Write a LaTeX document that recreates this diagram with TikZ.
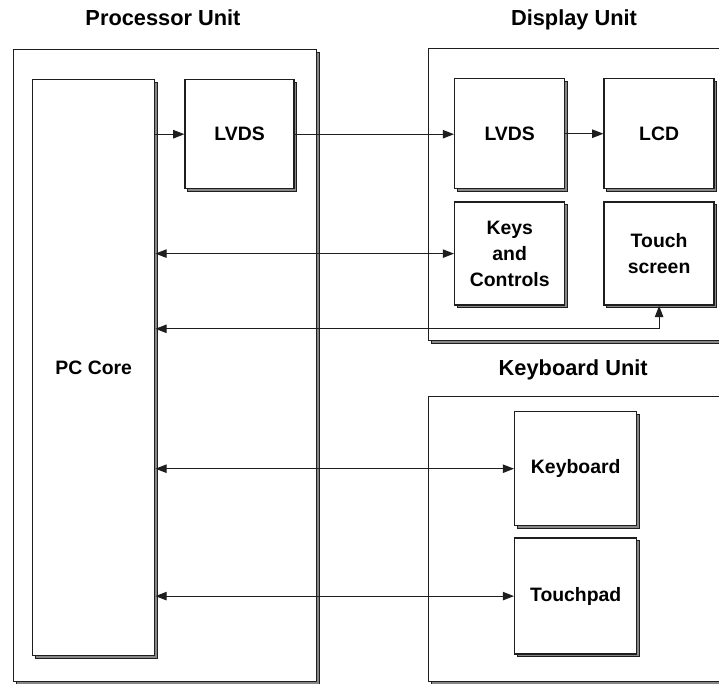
\documentclass[tikz,border=0pt]{standalone}
\usepackage{fontspec}
\setmainfont{Liberation Sans}
\usetikzlibrary{arrows.meta, positioning, shadows}
\definecolor{ShadowGray}{RGB}{135, 135, 135}
\definecolor{EdgeBlack}{RGB}{30, 30, 30}

\begin{document}
\begin{tikzpicture}[
    every node/.style={font=\fontsize{13.8}{18.4}\selectfont\bfseries, align=center},
    block/.style={rectangle, draw=EdgeBlack, fill=white, line width=1pt, inner sep=0pt, anchor=north west,
      drop shadow={shadow xshift=0.07cm, shadow yshift=-0.07cm, fill=ShadowGray, draw=EdgeBlack, line width=0.7pt, opacity=1}},
    title/.style={font=\fontsize{15.5}{18}\selectfont\bfseries, text height=1.5ex, text depth=0.25ex},
    link/.style={-{Triangle[length=8pt, width=6pt]}, draw=EdgeBlack, line width=0.8pt},
    bilink/.style={link, {Triangle[length=8pt, width=6pt]}-{Triangle[length=8pt, width=6pt]}}
  ]
    \useasboundingbox (0,0) rectangle (17.975,-17.075);

    % Processor unit
    \node[block, minimum width=7.575cm, minimum height=15.8cm] (procunit) at (0.325,-1.225) {};
    \node[title] (proctitle) at (4.075,-0.525) {Processor Unit};
    \node[block, minimum width=3.05cm, minimum height=14.4cm, below right=0.75cm and 0.475cm of procunit.north west] (pccore) {PC Core};
    \node[block, minimum width=2.725cm, minimum height=2.725cm, below right=0cm and 0.725cm of pccore.north east] (lvdsP) {LVDS};

    % Display unit
    \node[block, minimum width=7.6cm, minimum height=7.3cm] (dispunit) at (10.7,-1.2) {};
    \node[title] (disptitle) at (14.35,-0.525) {Display Unit};
    \node[block, minimum width=2.75cm, minimum height=2.75cm, below right=0.75cm and 0.65cm of dispunit.north west] (lvdsD) {LVDS};
    \node[block, minimum width=2.75cm, minimum height=2.75cm, below right=0cm and 0.95cm of lvdsD.north east] (lcd) {LCD};
    \node[block, minimum width=2.75cm, minimum height=2.575cm, below right=0.3cm and 0cm of lvdsD.south west] (keys) {Keys\\and\\Controls};
    \node[block, minimum width=2.75cm, minimum height=2.575cm, below right=0.3cm and 0cm of lcd.south west] (touch) {Touch\\screen};

    % Keyboard unit
    \node[block, minimum width=7.6cm, minimum height=7.125cm] (kbdunit) at (10.7,-9.9) {};
    \node[title] (kbdtitle) at (14.33,-9.275) {Keyboard Unit};
    \node[block, minimum width=3.05cm, minimum height=2.85cm, below right=0.375cm and 2.15cm of kbdunit.north west] (keyboard) {Keyboard};
    \node[block, minimum width=3.05cm, minimum height=2.9cm, below right=0.275cm and 0cm of keyboard.south west] (touchpad) {Touchpad};

    % Connections
    \coordinate[below=0.575cm of touch.south] (tsbend);
    \draw[link] (lvdsP.west -| pccore.east) -- (lvdsP.west);
    \draw[link] (lvdsP.east) -- (lvdsP.east -| lvdsD.west);
    \draw[link] (lvdsD) -- (lcd);
    \draw[bilink] (keys.west -| pccore.east) -- (keys.west);
    \draw[bilink] (touch.south) -- (tsbend) -- (tsbend -| pccore.east);
    \draw[bilink] (keyboard.west -| pccore.east) -- (keyboard.west);
    \draw[bilink] (touchpad.west -| pccore.east) -- (touchpad.west);
  \end{tikzpicture}
\end{document}
